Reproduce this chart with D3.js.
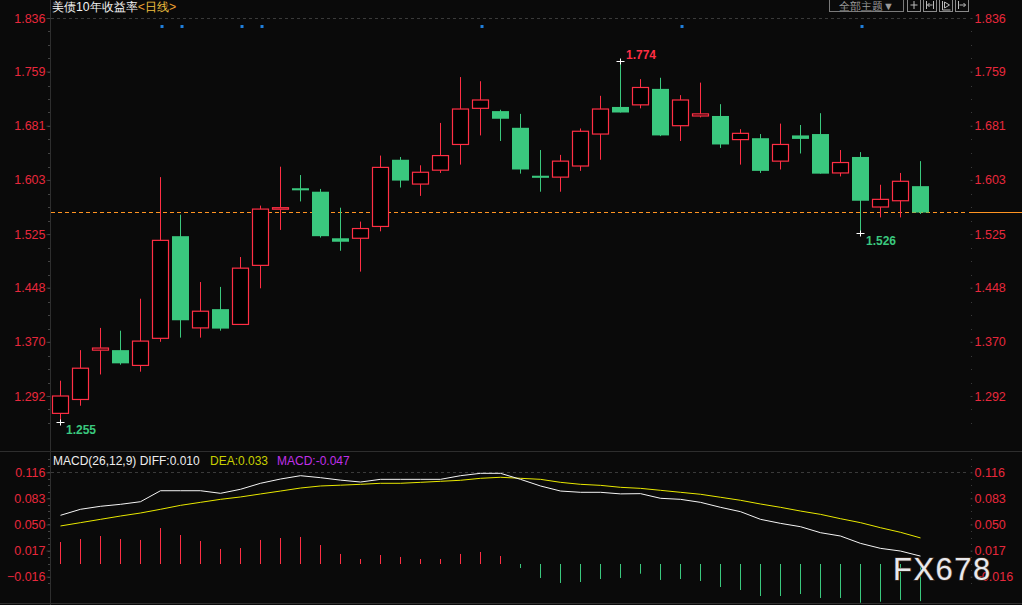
<!DOCTYPE html>
<html><head><meta charset="utf-8">
<script src="https://cdn.jsdelivr.net/npm/d3@7"></script>
<style>
html,body{margin:0;padding:0;background:#0a0a0a;overflow:hidden}
svg{display:block}
text{font-family:"Liberation Sans",Arial,sans-serif}
</style></head><body>
<svg id="c" width="1022" height="605"></svg>
<script>
// ---- data ----
const openP  = [1.267,1.287,1.358,1.358,1.336,1.375,1.522,1.390,1.417,1.395,1.480,1.561,1.591,1.586,1.519,1.519,1.536,1.632,1.597,1.617,1.654,1.706,1.702,1.678,1.609,1.607,1.623,1.669,1.708,1.711,1.734,1.681,1.695,1.695,1.661,1.663,1.630,1.667,1.669,1.613,1.636,1.564,1.573,1.594];
const highP  = [1.314,1.358,1.390,1.386,1.432,1.607,1.553,1.456,1.449,1.492,1.566,1.622,1.610,1.590,1.563,1.543,1.638,1.636,1.624,1.685,1.751,1.745,1.704,1.698,1.646,1.639,1.677,1.724,1.774,1.748,1.750,1.725,1.743,1.712,1.676,1.669,1.684,1.682,1.699,1.646,1.643,1.596,1.613,1.630];
const lowP   = [1.255,1.278,1.323,1.337,1.327,1.370,1.376,1.376,1.386,1.395,1.447,1.531,1.572,1.520,1.501,1.471,1.529,1.592,1.580,1.613,1.625,1.667,1.659,1.612,1.586,1.586,1.616,1.632,1.700,1.706,1.666,1.659,1.693,1.649,1.625,1.613,1.618,1.641,1.612,1.608,1.526,1.549,1.549,1.554];
const closeP = [1.292,1.332,1.361,1.339,1.371,1.516,1.401,1.414,1.389,1.476,1.561,1.563,1.588,1.522,1.514,1.533,1.621,1.602,1.614,1.638,1.705,1.718,1.691,1.618,1.606,1.630,1.673,1.705,1.700,1.736,1.667,1.718,1.698,1.654,1.670,1.616,1.654,1.662,1.612,1.628,1.573,1.575,1.601,1.556];
const diffV  = [0.0616,0.0692,0.0730,0.0755,0.0788,0.0927,0.0927,0.0927,0.0894,0.0945,0.1021,0.1075,0.1117,0.1092,0.1061,0.1037,0.1071,0.1071,0.1071,0.1071,0.1117,0.1147,0.1147,0.1071,0.0987,0.0923,0.0907,0.0907,0.0887,0.0890,0.0831,0.0818,0.0780,0.0717,0.0662,0.0565,0.0514,0.0472,0.0396,0.0354,0.0261,0.0198,0.0164,0.0100];
const deaV   = [0.0481,0.0523,0.0565,0.0607,0.0645,0.0692,0.0742,0.0780,0.0818,0.0848,0.0886,0.0923,0.0961,0.0987,0.0997,0.1008,0.1021,0.1021,0.1033,0.1046,0.1059,0.1084,0.1097,0.1084,0.1071,0.1033,0.1008,0.0995,0.0970,0.0957,0.0932,0.0907,0.0882,0.0844,0.0806,0.0759,0.0717,0.0670,0.0628,0.0573,0.0523,0.0459,0.0401,0.0330];
const macdV  = [0.0278,0.0316,0.0354,0.0316,0.0304,0.0455,0.0367,0.0291,0.0190,0.0202,0.0304,0.0329,0.0342,0.0240,0.0127,0.0063,0.0114,0.0089,0.0063,0.0063,0.0127,0.0152,0.0101,-0.0051,-0.0177,-0.0240,-0.0228,-0.0190,-0.0177,-0.0123,-0.0202,-0.0190,-0.0215,-0.0291,-0.0329,-0.0405,-0.0405,-0.0380,-0.0430,-0.0430,-0.0490,-0.0477,-0.0455,-0.0470];
const priceTicks = [1.836,1.759,1.681,1.603,1.525,1.448,1.370,1.292];
const macdTicks  = [0.116,0.083,0.050,0.017,-0.016];
const eventIdx   = [5,6,9,10,21,31,40];
const lastPrice  = 1.556;
const title = "美债10年收益率";
const period = "日线";
const macdLegend = {name:"MACD(26,12,9)", diff:"0.010", dea:"0.033", macd:"-0.047"};

// ---- setup ----
const W=1022,H=605;
const RED="#ff2e44", GREEN="#3ac87e", AX="#e8283c", GRID="#2e2e2e";
const svg=d3.select('#c');
svg.append('rect').attr('width',W).attr('height',H).attr('fill','#0a0a0a');

const n=openP.length;
const x=d3.scaleBand().domain(d3.range(n)).range([50.5,930.5]).paddingInner(0.15).paddingOuter(0.075);
const cx=i=>x(i)+x.bandwidth()/2;
const y=d3.scaleLinear().domain([1.292,1.836]).range([396,18]);
const ym=d3.scaleLinear().domain([0,0.116]).range([564,472.3]);

// frame lines
svg.append('line').attr('x1',50.5).attr('x2',50.5).attr('y1',0).attr('y2',H).attr('stroke',GRID);
svg.append('line').attr('x1',0).attr('x2',W).attr('y1',451.5).attr('y2',451.5).attr('stroke',GRID);
svg.append('line').attr('x1',0).attr('x2',W).attr('y1',603.5).attr('y2',603.5).attr('stroke',GRID);

// top dashed gridlines
svg.append('line').attr('x1',51).attr('x2',968).attr('y1',Math.round(y(1.836))+0.5).attr('y2',Math.round(y(1.836))+0.5)
  .attr('stroke','#3a3a3a').attr('stroke-dasharray','3,3');
svg.append('line').attr('x1',51).attr('x2',968).attr('y1',Math.round(ym(0.116))+0.5).attr('y2',Math.round(ym(0.116))+0.5)
  .attr('stroke','#3a3a3a').attr('stroke-dasharray','3,3');

// axes
function styleAxis(g){
  g.select('.domain').remove();
  g.selectAll('.tick line').attr('stroke','#3c3c3c');
  g.selectAll('.tick text').attr('fill',AX).attr('font-size','12.5px').attr('font-family','"Liberation Sans",Arial,sans-serif');
}
svg.append('g').attr('transform','translate(50.5,0)')
  .call(d3.axisLeft(y).tickValues(priceTicks).tickFormat(d3.format('.3f')).tickSize(4).tickPadding(1)).call(styleAxis);
svg.append('g').attr('transform','translate(970.5,0)')
  .call(d3.axisRight(y).tickValues(priceTicks).tickFormat(d3.format('.3f')).tickSize(2).tickPadding(2)).call(styleAxis);
svg.append('g').attr('transform','translate(50.5,0)')
  .call(d3.axisLeft(ym).tickValues(macdTicks).tickFormat(d3.format('.3f')).tickSize(4).tickPadding(1)).call(styleAxis);
svg.append('g').attr('transform','translate(970.5,0)')
  .call(d3.axisRight(ym).tickValues(macdTicks).tickFormat(d3.format('.3f')).tickSize(2).tickPadding(2)).call(styleAxis);

// minor ticks
const stepP=(1.836-1.292)/28;
const minorP=d3.range(0,31).map(k=>1.836-k*stepP).filter(v=>y(v)<447);
svg.append('g').selectAll('line').data(minorP).join('line')
  .attr('x1',48).attr('x2',50).attr('y1',d=>Math.round(y(d))+0.5).attr('y2',d=>Math.round(y(d))+0.5).attr('stroke','#444');
svg.append('g').selectAll('rect').data(minorP).join('rect')
  .attr('x',971).attr('y',d=>Math.round(y(d))).attr('width',1).attr('height',1).attr('fill','#3a3a3a');
const stepM=0.033/4;
const minorM=d3.range(-2,18).map(k=>0.116-k*stepM).filter(v=>ym(v)>455&&ym(v)<602);
svg.append('g').selectAll('line').data(minorM).join('line')
  .attr('x1',48).attr('x2',50).attr('y1',d=>Math.round(ym(d))+0.5).attr('y2',d=>Math.round(ym(d))+0.5).attr('stroke','#444');
svg.append('g').selectAll('rect').data(minorM).join('rect')
  .attr('x',971).attr('y',d=>Math.round(ym(d))).attr('width',1).attr('height',1).attr('fill','#3a3a3a');

// last price line (crisp, orange)
const yl=Math.floor(y(lastPrice))+0.5;
svg.append('line').attr('x1',51).attr('x2',968).attr('y1',yl).attr('y2',yl).attr('stroke','#ff9422')
  .attr('stroke-width',1.6).attr('stroke-dasharray','4,3').attr('shape-rendering','crispEdges');
svg.append('line').attr('x1',969).attr('x2',W).attr('y1',yl).attr('y2',yl).attr('stroke','#ff9422')
  .attr('stroke-width',1.6).attr('shape-rendering','crispEdges');

// candles
const idx=d3.range(n);
const cg=svg.append('g');
cg.selectAll('line.wick').data(idx).join('line').attr('class','wick')
  .attr('x1',i=>cx(i)).attr('x2',i=>cx(i)).attr('y1',i=>y(highP[i])).attr('y2',i=>y(lowP[i]))
  .attr('stroke',i=>closeP[i]>=openP[i]?RED:GREEN).attr('stroke-width',1);
cg.selectAll('rect.body').data(idx).join('rect').attr('class','body')
  .each(function(i){
    const up=closeP[i]>=openP[i];
    const top=y(Math.max(openP[i],closeP[i])), bot=y(Math.min(openP[i],closeP[i]));
    const h=Math.max(bot-top,1.5);
    const s=d3.select(this);
    if(up){
      s.attr('x',x(i)+0.5).attr('width',x.bandwidth()-1).attr('y',top).attr('height',h)
       .attr('fill','#000').attr('stroke',RED).attr('stroke-width',1.2);
    } else {
      s.attr('x',x(i)).attr('width',x.bandwidth()).attr('y',top).attr('height',Math.max(h,2))
       .attr('fill',GREEN);
    }
  });

// event dots
svg.append('g').selectAll('rect').data(eventIdx).join('rect')
  .attr('x',i=>cx(i)).attr('y',25).attr('width',3).attr('height',3).attr('fill','#1f7fdc');

// high / low markers
const iMax=d3.maxIndex(highP), iMin=d3.minIndex(lowP);
let iMin2=-1;
{ let best=1e9; for(let i=30;i<n;i++){ if(lowP[i]<best){best=lowP[i]; iMin2=i;} } }
function cross(i,v){
  const px=cx(i), py=Math.round(y(v))+0.5;
  svg.append('line').attr('x1',px-4).attr('x2',px+4).attr('y1',py).attr('y2',py).attr('stroke','#fff');
  svg.append('line').attr('x1',px).attr('x2',px).attr('y1',py-3).attr('y2',py+3).attr('stroke','#fff');
}
cross(iMax,highP[iMax]);
svg.append('text').attr('x',cx(iMax)+5.5).attr('y',y(highP[iMax])-6.5).attr('dominant-baseline','central')
  .attr('fill',RED).attr('font-size','12px').attr('font-weight','bold').text(d3.format('.3f')(highP[iMax]));
[iMin,iMin2].forEach(i=>{
  cross(i,lowP[i]);
  svg.append('text').attr('x',cx(i)+5.5).attr('y',y(lowP[i])+8).attr('dominant-baseline','central')
    .attr('fill',GREEN).attr('font-size','12px').attr('font-weight','bold').text(d3.format('.3f')(lowP[i]));
});

// header
const hd=svg.append('text').attr('x',52).attr('y',7).attr('dominant-baseline','central')
  .attr('font-size','12.3px').attr('font-family','"Noto Sans CJK SC",sans-serif');
hd.append('tspan').attr('fill','#f2f2f2').text(title);
hd.append('tspan').attr('fill','#f0a030').text('<');
hd.append('tspan').attr('fill','#f0c040').text(period);
hd.append('tspan').attr('fill','#f0a030').text('>');

// top right buttons
const btn=svg.append('g');
btn.append('rect').attr('x',829.5).attr('y',-1.5).attr('width',74).attr('height',13).attr('fill','none').attr('stroke','#7a7a7a');
btn.append('text').attr('x',866.5).attr('y',5.5).attr('text-anchor','middle').attr('dominant-baseline','central')
  .attr('fill','#9a9a9a').attr('font-size','11px').attr('font-family','"Noto Sans CJK SC",sans-serif').text('全部主题▼');
[907.5,923.5,939.5,955.5].forEach((bx,k)=>{
  btn.append('rect').attr('x',bx).attr('y',-1.5).attr('width',13).attr('height',13).attr('fill','none').attr('stroke','#8a8a8a');
  const g=btn.append('g').attr('stroke','#bbb').attr('fill','none');
  if(k===0){ g.append('path').attr('d',`M${bx+3},${5}H${bx+10}M${bx+6.5},1V9`); }
  if(k===1){ g.append('path').attr('d',`M${bx+3},1V9M${bx+10},1V9M${bx+4},5H${bx+9}M${bx+6},3L${bx+4},5L${bx+6},7`); }
  if(k===2){ g.append('path').attr('d',`M${bx+3},1V10H${bx+11}M${bx+5},2V8L${bx+10},5Z`); }
  if(k===3){ g.append('path').attr('d',`M${bx+3},1V9M${bx+4},5H${bx+10}M${bx+8},3L${bx+10},5L${bx+8},7`); }
});

// MACD panel
const mp=svg.append('g');
const clip=svg.append('clipPath').attr('id','mclip');
clip.append('rect').attr('x',51).attr('y',452).attr('width',920).attr('height',151);
const mg=mp.append('g').attr('clip-path','url(#mclip)');
mg.selectAll('line.bar').data(idx).join('line').attr('class','bar')
  .attr('x1',i=>cx(i)).attr('x2',i=>cx(i)).attr('y1',ym(0)).attr('y2',i=>ym(macdV[i]))
  .attr('stroke',i=>macdV[i]>=0?RED:GREEN).attr('stroke-width',1);
const ln=(arr)=>d3.line().x((d,i)=>cx(i)).y(d=>ym(d))(arr);
mg.append('path').attr('d',ln(deaV)).attr('fill','none').attr('stroke','#e8e800').attr('stroke-width',1);
mg.append('path').attr('d',ln(diffV)).attr('fill','none').attr('stroke','#f4f4f4').attr('stroke-width',1);

svg.append('text').attr('x',53).attr('y',461).attr('dominant-baseline','central').attr('font-size','12px')
  .attr('fill','#eeeeee').text(macdLegend.name+' DIFF:'+macdLegend.diff);
svg.append('text').attr('x',210).attr('y',461).attr('dominant-baseline','central').attr('font-size','12px')
  .attr('fill','#c8d000').text('DEA:'+macdLegend.dea);
svg.append('text').attr('x',277).attr('y',461).attr('dominant-baseline','central').attr('font-size','12px')
  .attr('fill','#c030e8').text('MACD:'+macdLegend.macd);

// watermark
svg.append('text').attr('x',893).attr('y',580).attr('font-size','31px').attr('letter-spacing','1.5px')
  .attr('fill','#e8e8ec').attr('stroke','#3a2c22').attr('stroke-width',1.5).attr('paint-order','stroke')
  .attr('font-family','"Liberation Sans",Arial,sans-serif').text('FX678');
</script>
</body></html>
